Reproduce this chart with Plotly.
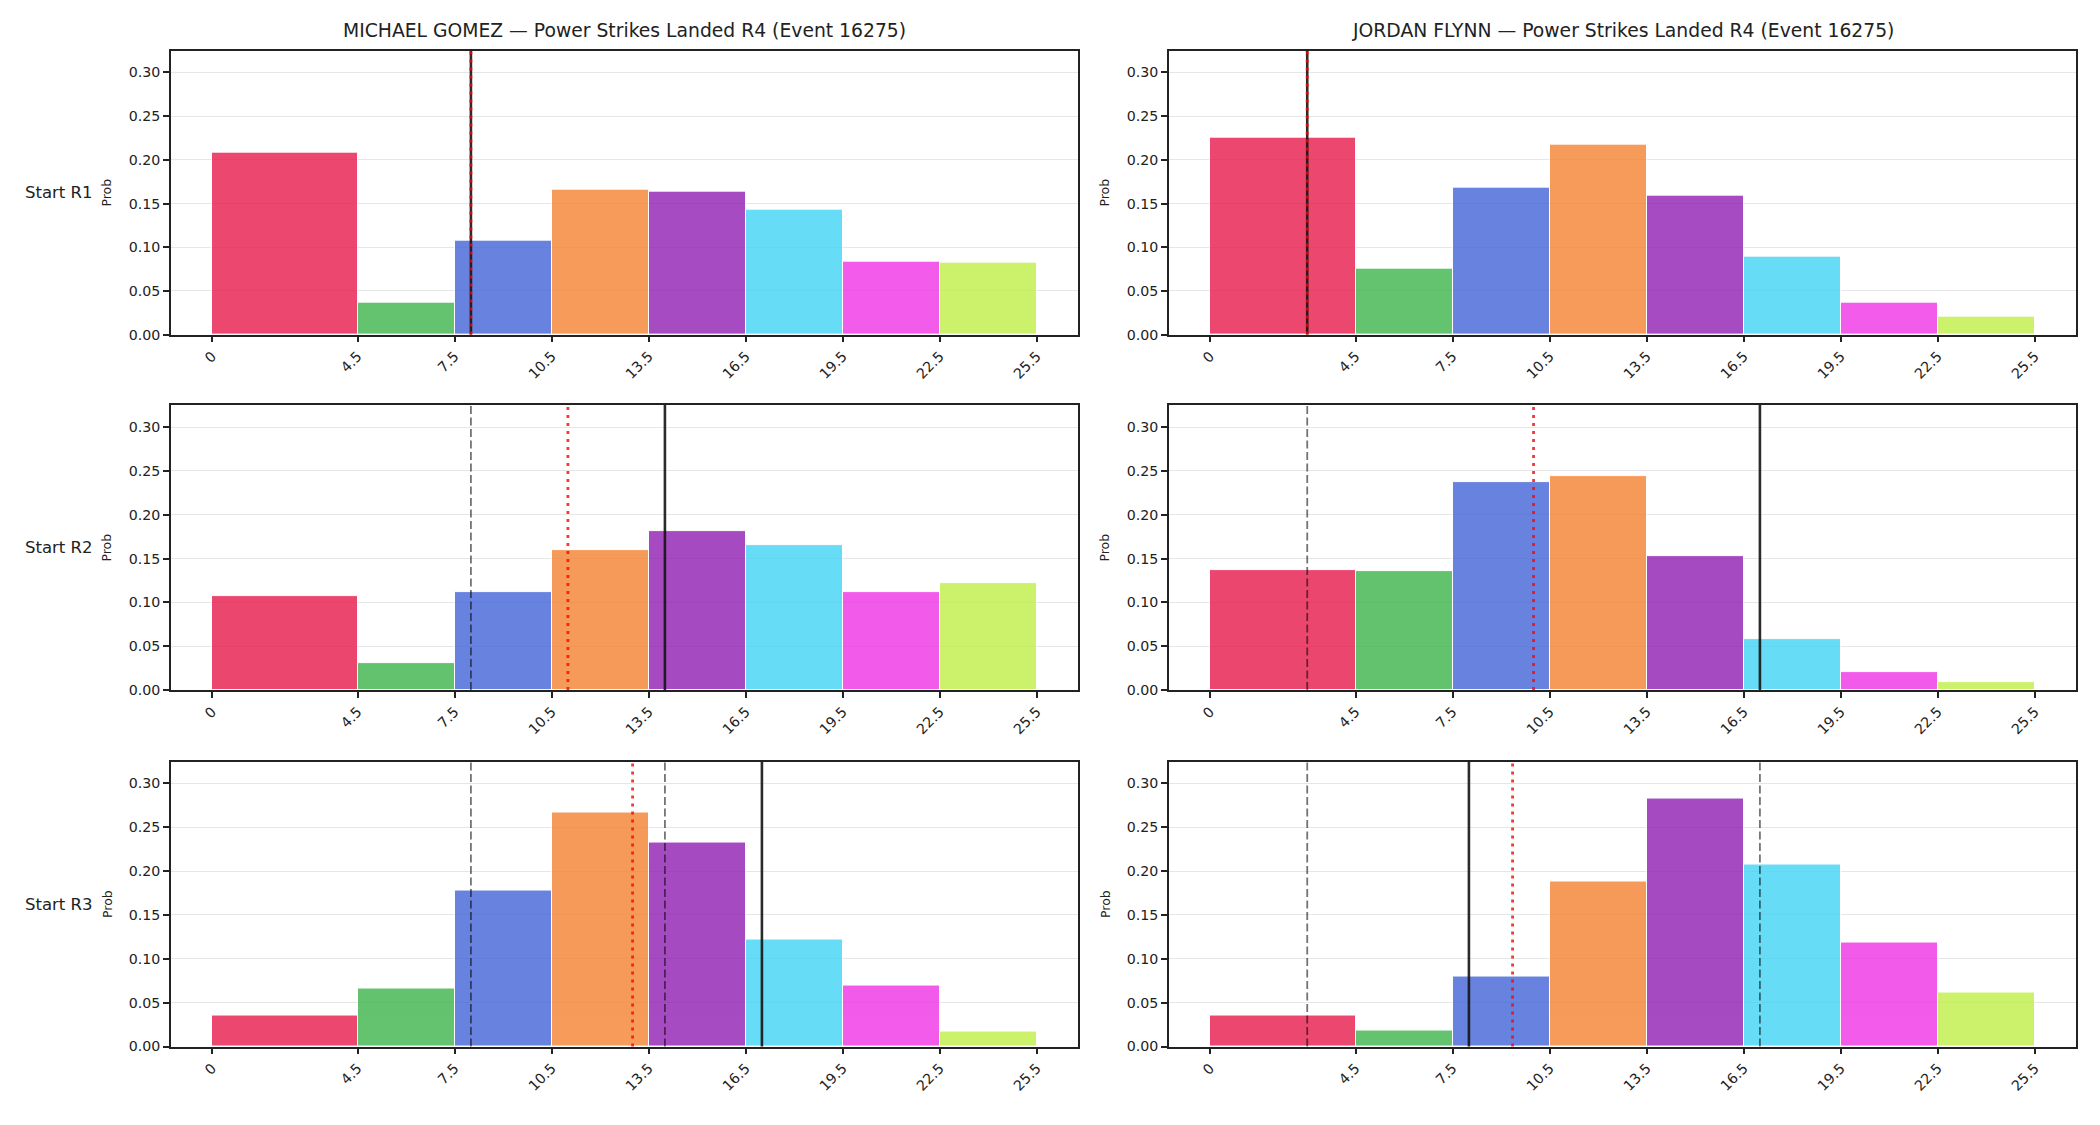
import numpy as np
import plotly.graph_objects as go
from plotly.subplots import make_subplots

# ---------------- data ----------------
bin_edges = [0, 4.5, 7.5, 10.5, 13.5, 16.5, 19.5, 22.5, 25.5]
tick_labels = ["0", "4.5", "7.5", "10.5", "13.5", "16.5", "19.5", "22.5", "25.5"]

fighters = ["MICHAEL GOMEZ", "JORDAN FLYNN"]
row_labels = ["Start R1", "Start R2", "Start R3"]

gomez_r1 = [0.208, 0.037, 0.107, 0.166, 0.164, 0.143, 0.084, 0.082]
gomez_r2 = [0.107, 0.031, 0.112, 0.160, 0.181, 0.165, 0.112, 0.122]
gomez_r3 = [0.035, 0.066, 0.178, 0.267, 0.233, 0.122, 0.069, 0.017]

flynn_r1 = [0.225, 0.075, 0.168, 0.217, 0.159, 0.089, 0.037, 0.021]
flynn_r2 = [0.137, 0.136, 0.237, 0.244, 0.153, 0.058, 0.020, 0.009]
flynn_r3 = [0.035, 0.018, 0.080, 0.188, 0.283, 0.207, 0.119, 0.061]

# vertical reference lines per row
gomez_solid = [8, 14, 17]
gomez_dotted = [8, 11, 13]
gomez_dashed = [[], [8], [8, 14]]

flynn_solid = [3, 17, 8]
flynn_dotted = [3, 10, 9.35]
flynn_dashed = [[], [3], [3, 17]]

bar_colors = ["#e6194b", "#3cb44b", "#4363d8", "#f58231",
              "#911eb4", "#42d4f4", "#f032e6", "#bfef45"]

probs = [[gomez_r1, flynn_r1], [gomez_r2, flynn_r2], [gomez_r3, flynn_r3]]
solid = [gomez_solid, flynn_solid]
dotted = [gomez_dotted, flynn_dotted]
dashed = [gomez_dashed, flynn_dashed]

# ---------------- figure ----------------
W, H = 2100, 1125
FONT = "DejaVu Sans"
INK = "#222222"

fig = make_subplots(rows=3, cols=2)

edges = np.array(bin_edges)
centers = (edges[:-1] + edges[1:]) / 2
widths = np.diff(edges)

col_px = [(171, 1078), (1169, 2076)]
row_px = [(51, 337), (408, 695), (767, 1054)]

for r in range(3):
    for c in range(2):
        idx = r * 2 + c + 1
        fig.add_trace(go.Bar(
            x=centers, y=probs[r][c], width=widths,
            marker=dict(color=bar_colors, opacity=0.8,
                        line=dict(color="white", width=1)),
            hoverinfo="skip", showlegend=False,
        ), row=r + 1, col=c + 1)

        xs = "" if idx == 1 else str(idx)
        xr, yr = f"x{xs}", f"y{xs}"
        # dashed grey
        for v in dashed[c][r]:
            fig.add_shape(type="line", xref=xr, yref=f"{yr} domain",
                          x0=v, x1=v, y0=0, y1=1,
                          line=dict(color="rgba(0,0,0,0.55)", width=1.8, dash="8px,3.5px"))
        # solid black
        v = solid[c][r]
        fig.add_shape(type="line", xref=xr, yref=f"{yr} domain",
                      x0=v, x1=v, y0=0, y1=1,
                      line=dict(color="rgba(20,20,20,0.9)", width=2.6))
        # dotted red
        v = dotted[c][r]
        fig.add_shape(type="line", xref=xr, yref=f"{yr} domain",
                      x0=v, x1=v, y0=0, y1=1,
                      line=dict(color="rgba(255,0,0,0.8)", width=2.8, dash="3px,5px"))

        x0p, x1p = col_px[c]
        y0p, y1p = row_px[r]
        fig.update_xaxes(
            domain=[x0p / W, x1p / W], range=[-1.275, 26.775],
            tickmode="array", tickvals=bin_edges, ticktext=tick_labels,
            tickangle=-45, ticks="outside", ticklen=6, tickwidth=1.5, tickcolor=INK,
            showline=True, linecolor=INK, linewidth=1.7, mirror=True,
            showgrid=False, zeroline=False,
            tickfont=dict(family=FONT, size=14.2, color=INK),
            row=r + 1, col=c + 1)
        fig.update_yaxes(
            domain=[1 - y1p / H, 1 - y0p / H], range=[0, 0.325],
            tickmode="array", tickvals=[0, 0.05, 0.10, 0.15, 0.20, 0.25, 0.30],
            tickformat=".2f",
            ticks="outside", ticklen=6, tickwidth=1.5, tickcolor=INK,
            showline=True, linecolor=INK, linewidth=1.7, mirror=True,
            showgrid=True, gridcolor="#e6e6e6", gridwidth=1, zeroline=False,
            tickfont=dict(family=FONT, size=14.2, color=INK),
            row=r + 1, col=c + 1)

        # "Prob" y labels
        fig.add_annotation(xref="paper", yref="paper",
                           x=(x0p - 64) / W, y=1 - (y0p + y1p) / 2 / H,
                           text="Prob", textangle=-90, showarrow=False,
                           xanchor="center", yanchor="middle",
                           font=dict(family=FONT, size=12.5, color=INK))

# column titles
for c in range(2):
    x0p, x1p = col_px[c]
    fig.add_annotation(xref="paper", yref="paper",
                       x=(x0p + x1p) / 2 / W, y=1 - 31 / H,
                       text=f"{fighters[c]} — Power Strikes Landed R4 (Event 16275)",
                       showarrow=False, xanchor="center", yanchor="middle",
                       font=dict(family=FONT, size=18.75, color=INK))

# row labels
for r in range(3):
    y0p, y1p = row_px[r]
    fig.add_annotation(xref="paper", yref="paper",
                       x=23 / W, y=1 - (y0p + y1p) / 2 / H,
                       text=row_labels[r], showarrow=False,
                       xanchor="left", yanchor="middle",
                       font=dict(family=FONT, size=16.5, color=INK))

fig.update_layout(
    width=W, height=H,
    margin=dict(l=0, r=0, t=0, b=0),
    paper_bgcolor="white", plot_bgcolor="white",
    bargap=0, showlegend=False,
    font=dict(family=FONT, color=INK),
)

fig.write_html("out.html")
